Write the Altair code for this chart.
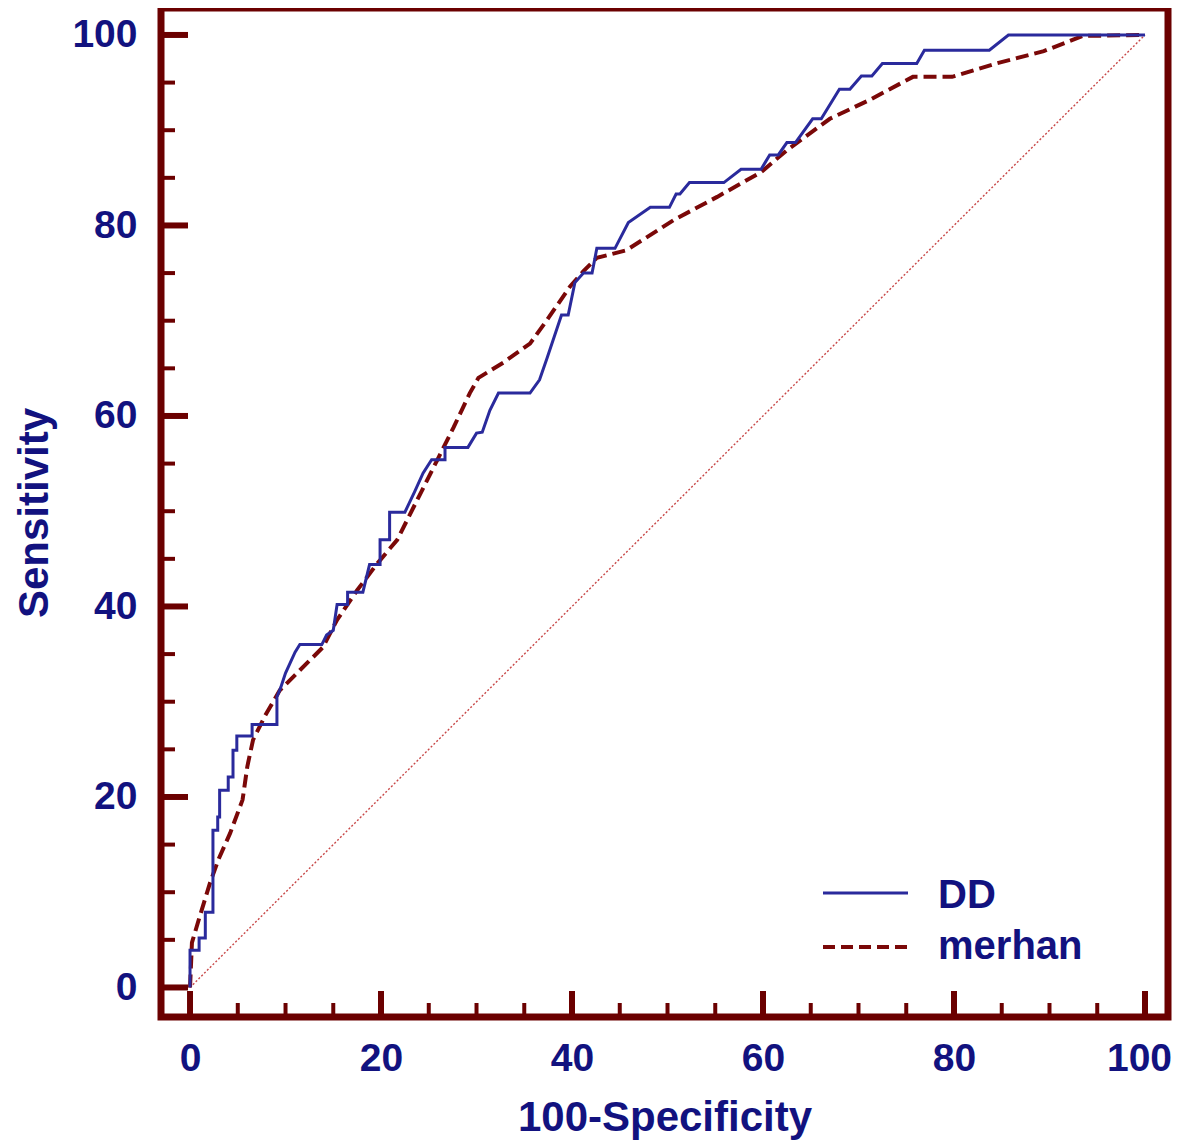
import altair as alt
import pandas as pd

# ---- data ----
dd_x = [0, 0, 0.95, 0.95, 1.6, 1.6, 2.4, 2.4, 2.9, 2.9, 3.1, 3.1, 4.0, 4.0, 4.5, 4.5, 4.9, 4.9,
        6.5, 6.5, 9.1, 9.1, 9.5, 10.0, 10.5, 11.0, 11.5, 13.8, 14.3, 15.0, 15.4, 16.5, 16.5, 18.1,
        18.8, 19.9, 19.9, 20.9, 20.9, 22.5, 23.5, 24.4, 25.3, 26.7, 26.7, 29.1, 30.0, 30.6, 31.4,
        32.3, 35.6, 36.6, 37.4, 38.9, 39.6, 40.3, 41.2, 42.1, 42.6, 44.5, 45.9, 48.2, 50.2, 50.9,
        51.3, 52.3, 55.9, 57.7, 59.8, 60.7, 61.6, 62.5, 63.4, 65.2, 66.1, 68.0, 69.1, 70.3, 71.4,
        72.5, 76.1, 76.9, 83.7, 85.7, 100]
dd_y = [0, 3.9, 3.9, 5.2, 5.2, 7.9, 7.9, 16.5, 16.5, 17.9, 17.9, 20.7, 20.7, 22.1, 22.1, 24.9, 24.9, 26.4,
        26.4, 27.6, 27.6, 30.5, 31.5, 33.0, 34.1, 35.2, 36.0, 36.0, 37.0, 37.5, 40.2, 40.2, 41.5, 41.5,
        44.4, 44.4, 47.0, 47.0, 49.9, 49.9, 52.0, 54.0, 55.4, 55.4, 56.7, 56.7, 58.2, 58.3, 60.6,
        62.4, 62.4, 63.8, 66.1, 70.6, 70.6, 74.0, 75.0, 75.0, 77.6, 77.6, 80.3, 81.9, 81.9, 83.3,
        83.3, 84.5, 84.5, 85.9, 85.9, 87.4, 87.4, 88.7, 88.7, 91.2, 91.2, 94.3, 94.3, 95.7, 95.7,
        97.0, 97.0, 98.4, 98.4, 100, 100]

mer_x = [0, 0.2, 1.0, 2.1, 3.0, 4.2, 5.5, 6.0, 6.6, 7.9, 9.4, 11.5, 13.9, 15.4, 17.5, 19.6, 21.7,
         23.8, 25.9, 27.6, 29.3, 30.2, 32.8, 35.6, 37.4, 39.8, 41.2, 42.6, 45.7, 50.7, 55.2, 59.8,
         62.5, 67.0, 71.2, 75.7, 79.8, 84.4, 89.4, 93.5, 100]
mer_y = [0, 4.7, 7.4, 11.0, 13.5, 16.2, 19.7, 23.2, 26.0, 28.6, 31.2, 33.3, 35.7, 38.6, 41.7, 44.5, 47.0,
         51.2, 55.4, 58.8, 62.4, 64.0, 65.6, 67.6, 70.1, 73.6, 75.2, 76.6, 77.4, 80.6, 83.0, 85.6,
         87.9, 91.2, 93.2, 95.6, 95.6, 97.0, 98.3, 99.9, 100]

diag_x = [0, 100]
diag_y = [0, 100]

tick_values = list(range(0, 101, 5))
label_values = [0, 20, 40, 60, 80, 100]
legend_names = ["DD", "merhan"]

# ---- style ----
FRAME = "#6b0000"
NAVY = "#12127f"
BLUE = "#2a2a9c"
RED = "#7a0808"
FONT = "Liberation Sans"
W, H = 1007, 1009
XDOM = [-3.04, 102.41]
YDOM = [-3.10, 102.83]

xs = alt.Scale(domain=XDOM, nice=False, zero=False)
ys = alt.Scale(domain=YDOM, nice=False, zero=False)

dd_df = pd.DataFrame({"x": dd_x, "y": dd_y, "i": range(len(dd_x))})
mer_df = pd.DataFrame({"x": mer_x, "y": mer_y, "i": range(len(mer_x))})
diag_df = pd.DataFrame({"x": diag_x, "y": diag_y})
major = [v for v in tick_values if v % 20 == 0]
minor = [v for v in tick_values if v % 20 != 0]
maj_df = pd.DataFrame({"x": major, "y": major})
min_df = pd.DataFrame({"x": minor, "y": minor})
leg_df = pd.DataFrame({"name": legend_names, "i": range(len(legend_names))})

x_axis = alt.Axis(values=label_values, ticks=False, domain=False, grid=False,
                  labelFont=FONT, labelFontWeight="bold", labelFontSize=39, labelColor=NAVY,
                  labelPadding=22, labelFlush=False,
                  labelOffset={"expr": "datum.value == 100 ? -6 : 0"},
                  title="100-Specificity", titleFont=FONT, titleFontWeight="bold", titleFontSize=42,
                  titleColor=NAVY, titleY=113, titleBaseline="alphabetic")
y_axis = alt.Axis(values=label_values, ticks=False, domain=False, grid=False,
                  labelFont=FONT, labelFontWeight="bold", labelFontSize=39, labelColor=NAVY,
                  labelPadding=24, labelFlush=False,
                  title="Sensitivity", titleFont=FONT, titleFontWeight="bold", titleFontSize=42,
                  titleColor=NAVY, titleX=-114, titleY=H / 2, titleBaseline="alphabetic",
                  titleAngle=270, titleAlign="center")

X = alt.X("x:Q", scale=xs, axis=x_axis)
Y = alt.Y("y:Q", scale=ys, axis=y_axis)

diag = alt.Chart(diag_df).mark_line(color="#c84848", strokeWidth=1.4, strokeDash=[2, 2]).encode(x=X, y=Y)

mer_line = alt.Chart(mer_df).mark_line(color=RED, strokeWidth=4, strokeDash=[13, 6]).encode(
    x=X, y=Y, order="i:Q")

dd_line = alt.Chart(dd_df).mark_line(color=BLUE, strokeWidth=3).encode(x=X, y=Y, order="i:Q")

# inward ticks
x_maj = alt.Chart(maj_df).mark_rule(color=FRAME, strokeWidth=6).encode(
    x=X, y=alt.value(H), y2=alt.value(H - 26))
x_min = alt.Chart(min_df).mark_rule(color=FRAME, strokeWidth=4).encode(
    x=X, y=alt.value(H), y2=alt.value(H - 14))
y_maj = alt.Chart(maj_df).mark_rule(color=FRAME, strokeWidth=6).encode(
    y=Y, x=alt.value(0), x2=alt.value(27))
y_min = alt.Chart(min_df).mark_rule(color=FRAME, strokeWidth=4).encode(
    y=Y, x=alt.value(0), x2=alt.value(14))

# legend
leg_dd = alt.Chart(leg_df).transform_filter("datum.i == 0").mark_rule(color=BLUE, strokeWidth=3).encode(
    x=alt.value(662), x2=alt.value(747), y=alt.value(885))
leg_mer = alt.Chart(leg_df).transform_filter("datum.i == 1").mark_rule(
    color=RED, strokeWidth=4, strokeDash=[12, 6]).encode(
    x=alt.value(662), x2=alt.value(747), y=alt.value(939))
leg_text = alt.Chart(leg_df).transform_calculate(py="900 + 51*datum.i").mark_text(
    font=FONT, fontWeight="bold", fontSize=40, color=NAVY, align="left", baseline="alphabetic").encode(
    x=alt.value(777), y=alt.Y("py:Q", scale=None, axis=None), text="name:N")

chart = alt.layer(diag, mer_line, dd_line, x_maj, x_min, y_maj, y_min, leg_dd, leg_mer, leg_text).properties(
    width=W, height=H,
    autosize=alt.AutoSizeParams(type="none"),
    padding={"left": 153, "top": 0, "right": 5, "bottom": 123},
    background="white",
).configure_view(stroke=FRAME, strokeWidth=7)

chart.save("out.html", embed_options={"renderer": "svg", "actions": False})
